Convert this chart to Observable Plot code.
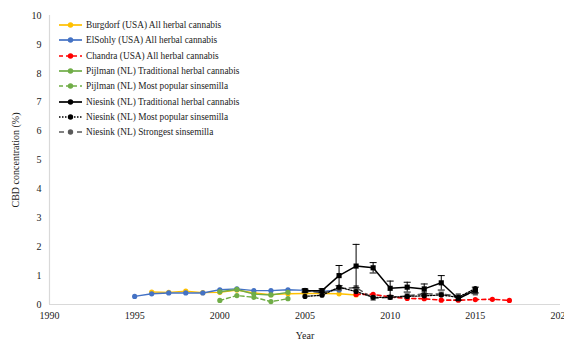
<!DOCTYPE html>
<html>
<head>
<meta charset="utf-8">
<script src="https://cdn.jsdelivr.net/npm/d3@7"></script>
<script src="https://cdn.jsdelivr.net/npm/@observablehq/plot@0.6"></script>
<style>
  html, body { margin: 0; padding: 0; background: #fff; }
  #wrap { position: relative; width: 564px; height: 343px; overflow: hidden; font-family: "Liberation Serif", "Times New Roman", serif; }
  #legend { position: absolute; left: 58px; top: 17.5px; font-size: 9.3px; color: #222; }
  .item { display: flex; align-items: center; height: 15.3px; }
  .item svg { margin-right: 3px; }
</style>
</head>
<body>
<div id="wrap"><div id="legend"></div></div>
<script>
// ---- data ----
const seriesNames = [
  "Burgdorf (USA) All herbal cannabis",
  "ElSohly (USA) All herbal cannabis",
  "Chandra (USA) All herbal cannabis",
  "Pijlman (NL) Traditional herbal cannabis",
  "Pijlman (NL) Most popular sinsemilla",
  "Niesink (NL) Traditional herbal cannabis",
  "Niesink (NL) Most popular sinsemilla",
  "Niesink (NL) Strongest sinsemilla"
];
const burgdorfYears = [1996, 1997, 1998, 1999, 2000, 2001, 2002, 2003, 2004, 2005, 2006, 2007, 2008];
const burgdorfCBD   = [0.43, 0.42, 0.46, 0.41, 0.42, 0.50, 0.40, 0.34, 0.37, 0.38, 0.38, 0.37, 0.33];
const elsohlyYears = [1995, 1996, 1997, 1998, 1999, 2000, 2001, 2002, 2003, 2004, 2005, 2006, 2007];
const elsohlyCBD   = [0.28, 0.37, 0.40, 0.40, 0.40, 0.51, 0.54, 0.48, 0.48, 0.51, 0.49, 0.45, 0.50];
const chandraYears = [2008, 2009, 2010, 2011, 2012, 2013, 2014, 2015, 2016, 2017];
const chandraCBD   = [0.35, 0.35, 0.26, 0.21, 0.20, 0.15, 0.15, 0.17, 0.18, 0.14];
const pijlmanTradYears = [2000, 2001, 2002, 2003, 2004];
const pijlmanTradCBD   = [0.44, 0.52, 0.36, 0.33, 0.42];
const pijlmanSinsYears = [2000, 2001, 2002, 2003, 2004];
const pijlmanSinsCBD   = [0.14, 0.31, 0.25, 0.10, 0.20];
const niesinkTradYears = [2005, 2006, 2007, 2008, 2009, 2010, 2011, 2012, 2013, 2014, 2015];
const niesinkTradCBD   = [0.48, 0.48, 1.00, 1.33, 1.27, 0.56, 0.60, 0.54, 0.75, 0.20, 0.50];
const niesinkTradErr   = [0.05, 0.06, 0.35, 0.75, 0.18, 0.25, 0.17, 0.17, 0.25, 0.05, 0.10];
const niesinkPopYears = [2005, 2006, 2007, 2008, 2009, 2010, 2011, 2012, 2013, 2014, 2015];
const niesinkPopCBD   = [0.28, 0.32, 0.60, 0.45, 0.25, 0.25, 0.28, 0.30, 0.33, 0.25, 0.55];
const niesinkStrYears = [2005, 2006, 2007, 2008, 2009, 2010, 2011, 2012, 2013, 2014, 2015];
const niesinkStrCBD   = [0.48, 0.40, 0.55, 0.58, 0.22, 0.25, 0.30, 0.37, 0.36, 0.30, 0.40];
const xTicks = [1990, 1995, 2000, 2005, 2010, 2015, 2020];
const yTicks = [0, 1, 2, 3, 4, 5, 6, 7, 8, 9, 10];

// ---- styles (separate from data) ----
const colors  = ["#FFC000", "#4472C4", "#FF0000", "#70AD47", "#70AD47", "#000000", "#000000", "#595959"];
const dashes  = [null, null, "4,3", null, "4,3", null, "1.5,1.5", "5,4"];
const symbols = ["circle", "circle", "circle", "circle", "circle", "square", "circle", "square"];
const widths  = [1.4, 1.4, 1.6, 1.4, 1.4, 1.5, 1.3, 1.5];

const seriesData = [
  [burgdorfYears, burgdorfCBD],
  [elsohlyYears, elsohlyCBD],
  [chandraYears, chandraCBD],
  [pijlmanTradYears, pijlmanTradCBD],
  [pijlmanSinsYears, pijlmanSinsCBD],
  [niesinkTradYears, niesinkTradCBD],
  [niesinkPopYears, niesinkPopCBD],
  [niesinkStrYears, niesinkStrCBD]
].map(([ys, vs], i) => ys.map((year, j) => ({ series: seriesNames[i], year, cbd: vs[j] })));

const errData = niesinkTradYears.map((year, j) => ({
  year, lo: niesinkTradCBD[j] - niesinkTradErr[j], hi: niesinkTradCBD[j] + niesinkTradErr[j]
}));

const capSymbol = {
  draw(ctx, size) {
    const w = Math.sqrt(size) * 0.9;
    ctx.moveTo(-w, 0);
    ctx.lineTo(w, 0);
  }
};

const marks = [
  Plot.ruleX([1990], { stroke: "#d9d9d9", strokeWidth: 1.2 }),
  Plot.ruleY([0], { stroke: "#d9d9d9", strokeWidth: 1.2 })
];
const order = [0, 1, 3, 4, 2, 7, 6, 5];
for (const i of order) {
  marks.push(Plot.line(seriesData[i], {
    x: "year", y: "cbd", stroke: colors[i], strokeWidth: widths[i],
    strokeDasharray: dashes[i] || undefined
  }));
  if (i === 5) {
    marks.push(Plot.ruleX(errData, { x: "year", y1: "lo", y2: "hi", stroke: "#000", strokeWidth: 1 }));
    marks.push(Plot.dot(errData, { x: "year", y: "lo", symbol: capSymbol, r: 2.2, stroke: "#000", strokeWidth: 1 }));
    marks.push(Plot.dot(errData, { x: "year", y: "hi", symbol: capSymbol, r: 2.2, stroke: "#000", strokeWidth: 1 }));
  }
  marks.push(Plot.dot(seriesData[i], {
    x: "year", y: "cbd", fill: colors[i], stroke: "none",
    symbol: symbols[i], r: symbols[i] === "square" ? 2.9 : 2.6
  }));
}

const chart = Plot.plot({
  width: 564,
  height: 343,
  marginLeft: 49,
  marginRight: 4,
  marginTop: 15,
  marginBottom: 39,
  style: { fontFamily: "Liberation Serif, Times New Roman, serif", fontSize: "10px", color: "#222", background: "#fff", overflow: "hidden" },
  x: {
    domain: [1990, 2020], ticks: xTicks, tickFormat: d => String(d), tickSize: 0, tickPadding: 7,
    label: "Year", labelAnchor: "center", labelArrow: "none", labelOffset: 34
  },
  y: {
    domain: [0, 10], ticks: yTicks, tickSize: 0, tickPadding: 8,
    label: "CBD concentration (%)", labelAnchor: "center", labelArrow: "none", labelOffset: 38
  },
  marks
});
document.getElementById("wrap").prepend(chart);

// ---- legend ----
const legend = document.getElementById("legend");
seriesNames.forEach((name, i) => {
  const item = document.createElement("div");
  item.className = "item";
  const dash = dashes[i] ? `stroke-dasharray="${dashes[i]}"` : "";
  item.innerHTML = `<svg width="25" height="8"><line x1="1" y1="4" x2="24" y2="4" stroke="${colors[i]}" stroke-width="1.7" ${dash}/><circle cx="12.5" cy="4" r="2.7" fill="${colors[i]}"/></svg><span>${name}</span>`;
  legend.appendChild(item);
});
</script>
</body>
</html>
